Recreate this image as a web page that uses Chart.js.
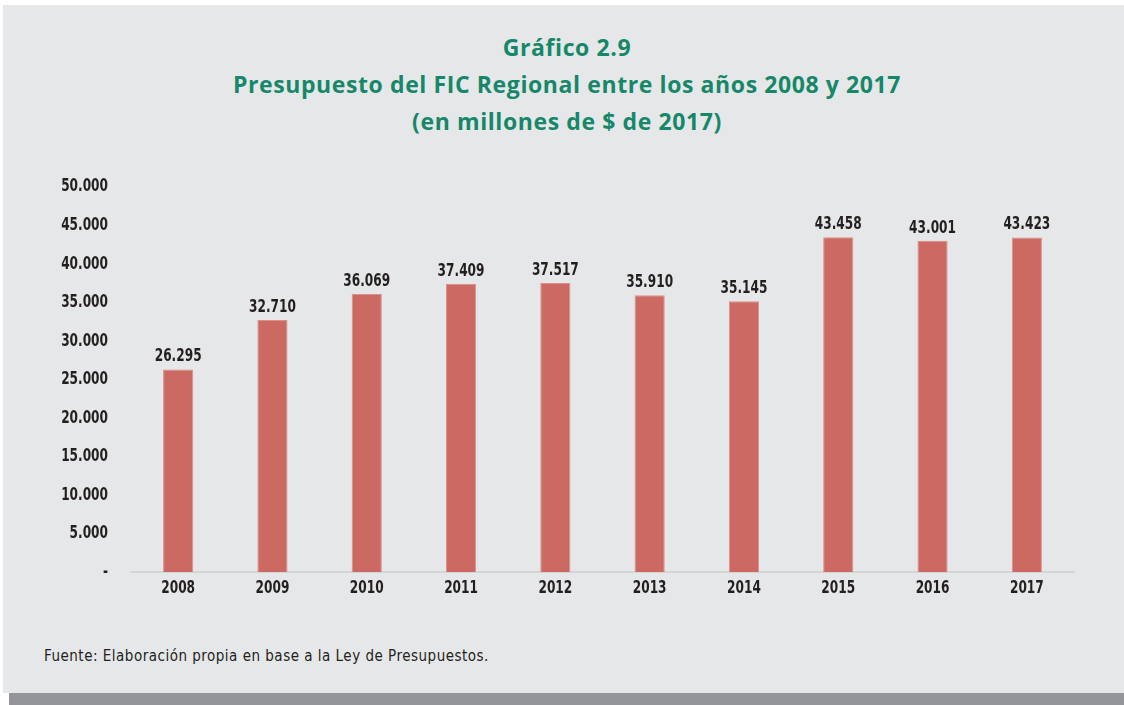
<!DOCTYPE html>
<html lang="es">
<head>
<meta charset="utf-8">
<script src="https://cdn.jsdelivr.net/npm/chart.js@4.4.1/dist/chart.umd.min.js"></script>
<style>
  body { margin: 0; background: #fff; width: 1124px; height: 705px; overflow: hidden; position: relative; }
  .panel { position: absolute; left: 3px; top: 5px; width: 1121px; height: 688px; background: #e6e7e8; }
  .shadow { position: absolute; left: 9px; top: 693px; width: 1115px; height: 12px; background: #939598; }
  .title { position: absolute; left: 0; top: 29px; width: 1134px; text-align: center; color: #17876a;
           font-family: 'Open Sans', sans-serif; font-weight: 700; font-size: 23px; line-height: 37px; letter-spacing: 0.6px; }
  .source { position: absolute; left: 44px; top: 647px; color: #231f20; letter-spacing: 0.5px;
            font-family: 'DejaVu Sans Condensed', 'DejaVu Sans', sans-serif; font-size: 15px; }
  .chart-box { position: absolute; left: 0; top: 153px; width: 1124px; height: 467px; }
</style>
</head>
<body>
<div class="panel"></div>
<div class="shadow"></div>
<div class="title">Gráfico 2.9<br>Presupuesto del FIC Regional entre los años 2008 y 2017<br>(en millones de $ de 2017)</div>
<div class="chart-box"><canvas id="chartFIC" width="1124" height="467"></canvas></div>
<div class="source">Fuente: Elaboración propia en base a la Ley de Presupuestos.</div>
<script>
// Datos
const anios = ['2008', '2009', '2010', '2011', '2012', '2013', '2014', '2015', '2016', '2017'];
const presupuesto = [26295, 32710, 36069, 37409, 37517, 35910, 35145, 43458, 43001, 43423];
const yMax = 50000;
const yPaso = 5000;

// Fuente condensada: DejaVu condensada y además estrechada en horizontal
const FONT_NUM = { family: "'DejaVu Sans Condensed', sans-serif", size: 18, weight: 'bold' };
const NARROW = 0.75;
const TEXT_COLOR = '#231f20';

function fmtMiles(v) {
  if (v === 0) return '-';
  return String(v).replace(/\B(?=(\d{3})+(?!\d))/g, '.');
}

function narrowText(ctx, txt, x, y, align, baseline) {
  ctx.save();
  ctx.translate(x, y);
  ctx.scale(NARROW, 1);
  ctx.textAlign = align;
  ctx.textBaseline = baseline;
  ctx.fillText(txt, 0, 0);
  ctx.restore();
}

// Etiquetas de ejes y de valor dibujadas con texto estrechado
const narrowLabels = {
  id: 'narrowLabels',
  afterDraw(chart) {
    const ctx = chart.ctx;
    const xs = chart.scales.x, ys = chart.scales.y;
    ctx.save();
    ctx.font = `${FONT_NUM.weight} ${FONT_NUM.size}px ${FONT_NUM.family}`;
    ctx.fillStyle = TEXT_COLOR;
    ys.ticks.forEach((t, i) => {
      narrowText(ctx, fmtMiles(t.value), ys.right - 23, ys.getPixelForTick(i), 'right', 'middle');
    });
    xs.ticks.forEach((t, i) => {
      narrowText(ctx, anios[i], xs.getPixelForTick(i), xs.top + 16, 'center', 'middle');
    });
    chart.getDatasetMeta(0).data.forEach((bar, i) => {
      narrowText(ctx, fmtMiles(presupuesto[i]), bar.x, bar.y - 8, 'center', 'alphabetic');
    });
    ctx.restore();
  }
};

new Chart(document.getElementById('chartFIC'), {
  type: 'bar',
  data: {
    labels: anios,
    datasets: [{
      data: presupuesto,
      backgroundColor: '#cc6963',
      borderColor: '#dc8f89',
      borderWidth: 1,
      categoryPercentage: 1,
      barPercentage: 0.32
    }]
  },
  options: {
    responsive: false,
    animation: false,
    layout: { padding: { top: 17, right: 50, bottom: 0, left: 0 } },
    plugins: { legend: { display: false }, tooltip: { enabled: false } },
    scales: {
      x: {
        grid: { display: false, drawTicks: false },
        border: { color: '#d4d5d6', width: 2 },
        ticks: { color: 'transparent', font: FONT_NUM, padding: 7 },
        afterFit: s => { s.height = 48; }
      },
      y: {
        min: 0, max: yMax,
        grid: { display: false, drawTicks: false },
        border: { display: false },
        ticks: { stepSize: yPaso, color: 'transparent', font: FONT_NUM, padding: 23, callback: v => fmtMiles(v) },
        afterFit: s => { s.width = 131; }
      }
    }
  },
  plugins: [narrowLabels]
});
</script>
</body>
</html>
